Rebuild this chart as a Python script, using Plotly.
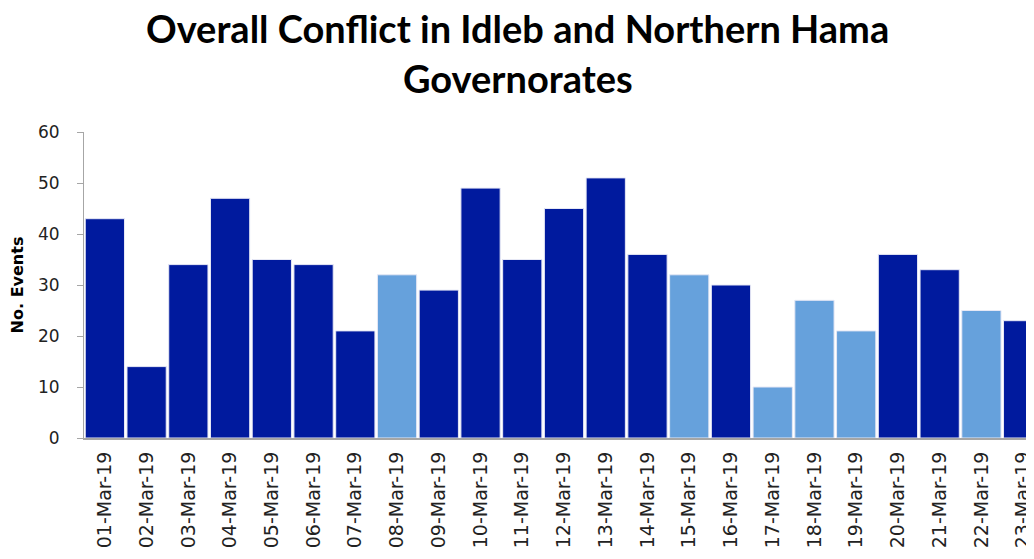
import plotly.graph_objects as go

dates = ["01-Mar-19", "02-Mar-19", "03-Mar-19", "04-Mar-19", "05-Mar-19", "06-Mar-19",
         "07-Mar-19", "08-Mar-19", "09-Mar-19", "10-Mar-19", "11-Mar-19", "12-Mar-19",
         "13-Mar-19", "14-Mar-19", "15-Mar-19", "16-Mar-19", "17-Mar-19", "18-Mar-19",
         "19-Mar-19", "20-Mar-19", "21-Mar-19", "22-Mar-19", "23-Mar-19"]
events = [43, 14, 34, 47, 35, 34, 21, 32, 29, 49, 35, 45, 51, 36, 32, 30, 10, 27, 21, 36, 33, 25, 23]
# 1 = light highlight, 0 = dark
highlight = [0, 0, 0, 0, 0, 0, 0, 1, 0, 0, 0, 0, 0, 0, 1, 0, 1, 1, 1, 0, 0, 1, 0]
title_lines = ["Overall Conflict in Idleb and Northern Hama", "Governorates"]

DARK = "#001a9e"
LIGHT = "#66a1dc"
colors = [LIGHT if h else DARK for h in highlight]

fig = go.Figure(go.Bar(
    x=dates, y=events,
    marker=dict(color=colors, line=dict(color="#e6e8f5", width=1)),
))

# page body has an 8px margin, so figure coords = screen coords - 8
W, H = 1026, 551
L, T, B = 76, 124, 121
plot_h = H - T - B

def py(screen_pix):
    return (H - B - (screen_pix - 8)) / plot_h

for line, ypix in zip(title_lines, [28, 78]):
    fig.add_annotation(
        text="<b>%s</b>" % line, xref="paper", yref="paper",
        x=0.4568, y=py(ypix), xanchor="center", yanchor="middle",
        showarrow=False, font=dict(family="Lato", size=38, color="#000000"),
    )

fig.update_layout(
    width=W, height=H,
    plot_bgcolor="white", paper_bgcolor="white",
    margin=dict(l=L, r=0, t=T, b=B, autoexpand=False),
    bargap=0.06,
    showlegend=False,
)
fig.update_xaxes(
    range=[-0.5, 22.26],
    tickangle=-90,
    tickfont=dict(family="DejaVu Sans", size=19, color="#222222"),
    showline=True, linecolor="#a6a6a6", linewidth=2,
    ticks="", showgrid=False,
    ticklabelstandoff=4,
    automargin=False,
)
fig.update_yaxes(
    range=[0, 60], dtick=10,
    tickfont=dict(family="DejaVu Sans", size=17, color="#222222"),
    showline=True, linecolor="#a6a6a6", linewidth=1,
    ticks="outside", ticklen=6, tickcolor="#a6a6a6",
    ticklabelstandoff=14,
    showgrid=False, zeroline=False,
    automargin=False,
    title=dict(text="<b>No. Events</b>", font=dict(family="DejaVu Sans", size=16, color="#000000"), standoff=12),
)

fig.write_html("out.html")
